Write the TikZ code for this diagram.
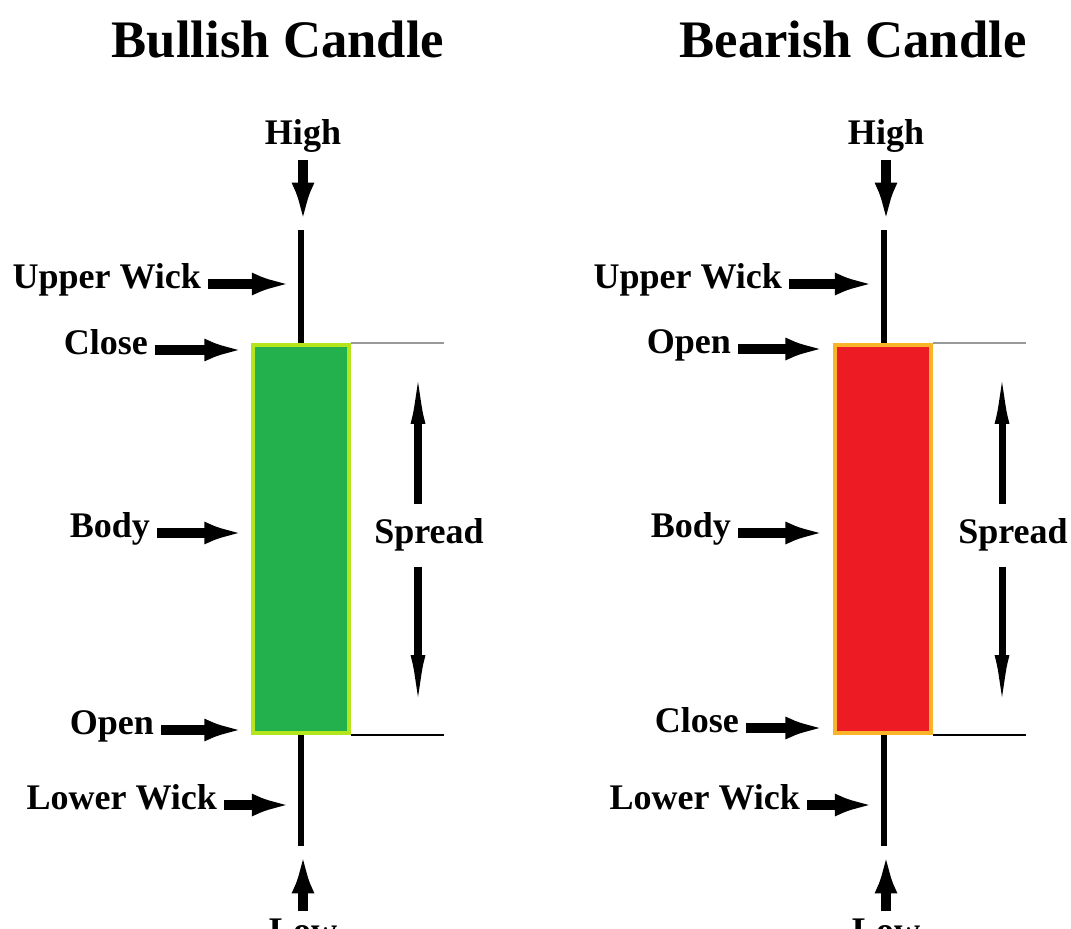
\documentclass[tikz,border=0pt]{standalone}
\usepackage{fontspec}
\setmainfont{Liberation Serif}
\usetikzlibrary{arrows.meta}
\definecolor{bullfill}{RGB}{34,177,76}
\definecolor{bullrim}{RGB}{181,230,29}
\definecolor{bearfill}{RGB}{237,28,36}
\definecolor{bearrim}{RGB}{250,180,40}
\begin{document}
\begin{tikzpicture}[x=0.02cm,y=-0.02cm,
  lbl/.style={font=\fontsize{20.5}{24}\selectfont\bfseries, inner sep=0pt, outer sep=4pt},
  heading/.style={font=\fontsize{30}{36}\selectfont\bfseries, inner sep=0pt, anchor=base},
  pointer/.style={line width=5.5pt, -{Latex[length=23pt,width=13pt]}},
  spanarrow/.style={line width=4pt, -{Latex[length=42pt,width=8pt]}},
  wick/.style={line width=3pt},
  candle/.style={rectangle, line width=2.5pt, minimum width=1.92cm, minimum height=7.76cm, inner sep=0pt},
  guide/.style={line width=0.8pt}]
\useasboundingbox (0,0) rectangle (1071,929);

% bullish candle
\node[heading] (ttlL) at (278,58) {Bullish Candle};
\node[candle, draw=bullrim, fill=bullfill] (bodyL) at (301,539) {};
\coordinate (hiL) at (301,230);
\coordinate (loL) at (301,846);
\draw[wick] (hiL) -- (bodyL.north);
\draw[wick] (bodyL.south) -- (loL);
\node[lbl, anchor=base] (highL) at (303,145) {High};
\node[lbl, anchor=base] (lowL) at (303,942) {Low};
\draw[pointer, shorten >=4pt] (highL.south) -- (highL.south |- hiL);
\draw[pointer, shorten >=4pt] (lowL.north) -- (lowL.north |- loL);
\node[lbl, anchor=mid east] (uwL) at (208,284) {Upper Wick};
\node[lbl, anchor=mid east] (closeL) at (155,350) {Close};
\node[lbl, anchor=mid east] (midL) at (157,533) {Body};
\node[lbl, anchor=mid east] (openL) at (161,730) {Open};
\node[lbl, anchor=mid east] (lwL) at (224,805) {Lower Wick};
\draw[pointer, shorten >=5pt] (uwL.mid east) -- (uwL.mid east -| hiL);
\draw[pointer, shorten >=3.5pt] (closeL.mid east) -- (closeL.mid east -| bodyL.west);
\draw[pointer, shorten >=3.5pt] (midL.mid east) -- (midL.mid east -| bodyL.west);
\draw[pointer, shorten >=3.5pt] (openL.mid east) -- (openL.mid east -| bodyL.west);
\draw[pointer, shorten >=5pt] (lwL.mid east) -- (lwL.mid east -| loL);
\draw[guide, black!40] (bodyL.north east) -- ++(93,0);
\draw[guide] (bodyL.south east) -- ++(93,0);
\node[lbl, anchor=base] (spL) at (429,543) {Spread};
\coordinate (sptopL) at (418,350);
\coordinate (spbotL) at (418,729);
\draw[spanarrow, shorten <=4pt] (sptopL |- spL.north) -- (sptopL);
\draw[spanarrow, shorten <=5.5pt] (spbotL |- spL.south) -- (spbotL);

% bearish candle
\node[heading] (ttlR) at (853,58) {Bearish Candle};
\node[candle, draw=bearrim, fill=bearfill] (bodyR) at (883,539) {};
\coordinate (hiR) at (884,230);
\coordinate (loR) at (884,846);
\draw[wick] (hiR) -- (hiR |- bodyR.north);
\draw[wick] (hiR |- bodyR.south) -- (loR);
\node[lbl, anchor=base] (highR) at (886,145) {High};
\node[lbl, anchor=base] (lowR) at (886,942) {Low};
\draw[pointer, shorten >=4pt] (highR.south) -- (highR.south |- hiR);
\draw[pointer, shorten >=4pt] (lowR.north) -- (lowR.north |- loR);
\node[lbl, anchor=mid east] (uwR) at (789,284) {Upper Wick};
\node[lbl, anchor=mid east] (openR) at (738,349) {Open};
\node[lbl, anchor=mid east] (midR) at (738,533) {Body};
\node[lbl, anchor=mid east] (closeR) at (746,728) {Close};
\node[lbl, anchor=mid east] (lwR) at (807,805) {Lower Wick};
\draw[pointer, shorten >=5pt] (uwR.mid east) -- (uwR.mid east -| hiR);
\draw[pointer, shorten >=4pt] (openR.mid east) -- (openR.mid east -| bodyR.west);
\draw[pointer, shorten >=4pt] (midR.mid east) -- (midR.mid east -| bodyR.west);
\draw[pointer, shorten >=4pt] (closeR.mid east) -- (closeR.mid east -| bodyR.west);
\draw[pointer, shorten >=5pt] (lwR.mid east) -- (lwR.mid east -| loR);
\draw[guide, black!40] (bodyR.north east) -- ++(93,0);
\draw[guide] (bodyR.south east) -- ++(93,0);
\node[lbl, anchor=base] (spR) at (1013,543) {Spread};
\coordinate (sptopR) at (1002,350);
\coordinate (spbotR) at (1002,729);
\draw[spanarrow, shorten <=4pt] (sptopR |- spR.north) -- (sptopR);
\draw[spanarrow, shorten <=5.5pt] (spbotR |- spR.south) -- (spbotR);
\end{tikzpicture}
\end{document}
